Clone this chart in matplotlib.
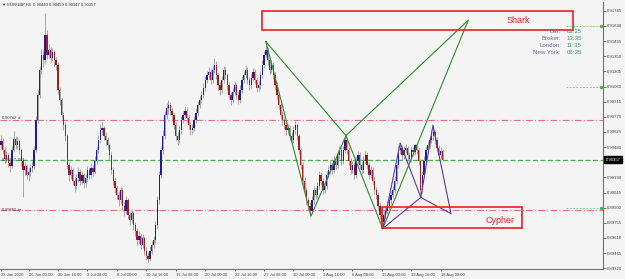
import numpy as np
import matplotlib.pyplot as plt
from matplotlib.patches import Rectangle

plt.rcParams['font.family'] = ['Liberation Sans', 'DejaVu Sans']

# EURGBP H4 candles (open of each bar = close of the previous bar)
first_open = 0.9050
closes = [
    0.9054, 0.9045, 0.9037, 0.9040, 0.9033, 0.9030, 0.9045, 0.9056, 0.9050, 0.9054,
    0.9045, 0.9035, 0.9026, 0.9030, 0.9021, 0.9024, 0.9028, 0.9030, 0.9045, 0.9074,
    0.9098, 0.9122, 0.9136, 0.9131, 0.9155, 0.9136, 0.9141, 0.9133, 0.9139, 0.9131,
    0.9127, 0.9103, 0.9093, 0.9079, 0.9069, 0.9059, 0.9031, 0.9021, 0.9026, 0.9016,
    0.9011, 0.9018, 0.9024, 0.9016, 0.9021, 0.9014, 0.9018, 0.9026, 0.9021, 0.9028,
    0.9024, 0.9035, 0.9045, 0.9055, 0.9064, 0.9066, 0.9059, 0.9055, 0.9050, 0.9040,
    0.9026, 0.9016, 0.9009, 0.9002, 0.8997, 0.9007, 0.8992, 0.8987, 0.8997, 0.8983,
    0.8978, 0.8985, 0.8973, 0.8968, 0.8959, 0.8963, 0.8954, 0.8961, 0.8949, 0.8944,
    0.8941, 0.8949, 0.8954, 0.8959, 0.8973, 0.8997, 0.9021, 0.9045, 0.9059, 0.9079,
    0.9085, 0.9088, 0.9083, 0.9079, 0.9069, 0.9059, 0.9055, 0.9064, 0.9074, 0.9079,
    0.9083, 0.9076, 0.9069, 0.9064, 0.9066, 0.9074, 0.9081, 0.9088, 0.9093, 0.9098,
    0.9105, 0.9112, 0.9117, 0.9120, 0.9112, 0.9122, 0.9127, 0.9117, 0.9107, 0.9103,
    0.9112, 0.9122, 0.9117, 0.9107, 0.9098, 0.9093, 0.9101, 0.9107, 0.9098, 0.9093,
    0.9103, 0.9112, 0.9117, 0.9122, 0.9112, 0.9107, 0.9114, 0.9120, 0.9112, 0.9105,
    0.9107, 0.9117, 0.9127, 0.9136, 0.9141, 0.9131, 0.9122, 0.9127, 0.9117, 0.9107,
    0.9098, 0.9088, 0.9079, 0.9074, 0.9069, 0.9064, 0.9066, 0.9059, 0.9055, 0.9064,
    0.9069, 0.9059, 0.9045, 0.9031, 0.9016, 0.9007, 0.8997, 0.8992, 0.8987, 0.8997,
    0.9007, 0.9002, 0.9011, 0.9021, 0.9016, 0.9007, 0.9011, 0.9021, 0.9026, 0.9031,
    0.9026, 0.9035, 0.9031, 0.9040, 0.9045, 0.9035, 0.9045, 0.9055, 0.9045, 0.9035,
    0.9026, 0.9031, 0.9021, 0.9035, 0.9040, 0.9031, 0.9026, 0.9035, 0.9040, 0.9031,
    0.9021, 0.9026, 0.9016, 0.9007, 0.9002, 0.8992, 0.8983, 0.8976, 0.8983, 0.8987,
    0.8992, 0.8997, 0.9002, 0.9007, 0.9016, 0.9031, 0.9045, 0.9047, 0.9040, 0.9045,
    0.9047, 0.9040, 0.9037, 0.9045, 0.9043, 0.9050, 0.9045, 0.9035, 0.9007, 0.9021,
    0.9035, 0.9045, 0.9050, 0.9055, 0.9059, 0.9062, 0.9055, 0.9047, 0.9040, 0.9044,
    0.90357,
]
highs = [
    0.9060, 0.9057, 0.9048, 0.9044, 0.9042, 0.9036, 0.9049, 0.9063, 0.9059, 0.9058,
    0.9056, 0.9047, 0.9037, 0.9034, 0.9032, 0.9028, 0.9032, 0.9035, 0.9049, 0.9078,
    0.9103, 0.9126, 0.9142, 0.9140, 0.9176, 0.9160, 0.9147, 0.9144, 0.9143, 0.9141,
    0.9134, 0.9129, 0.9106, 0.9096, 0.9082, 0.9072, 0.9061, 0.9034, 0.9030, 0.9028,
    0.9019, 0.9022, 0.9029, 0.9027, 0.9025, 0.9023, 0.9022, 0.9030, 0.9029, 0.9033,
    0.9031, 0.9039, 0.9049, 0.9060, 0.9070, 0.9072, 0.9068, 0.9062, 0.9058, 0.9052,
    0.9043, 0.9029, 0.9019, 0.9012, 0.9006, 0.9011, 0.9009, 0.8995, 0.9001, 0.8999,
    0.8986, 0.8989, 0.8987, 0.8976, 0.8971, 0.8968, 0.8966, 0.8965, 0.8963, 0.8952,
    0.8948, 0.8953, 0.8958, 0.8963, 0.8977, 0.9001, 0.9025, 0.9049, 0.9064, 0.9083,
    0.9090, 0.9093, 0.9091, 0.9086, 0.9081, 0.9072, 0.9062, 0.9068, 0.9078, 0.9083,
    0.9087, 0.9086, 0.9079, 0.9072, 0.9070, 0.9078, 0.9085, 0.9092, 0.9097, 0.9102,
    0.9109, 0.9116, 0.9121, 0.9125, 0.9123, 0.9126, 0.9133, 0.9130, 0.9119, 0.9110,
    0.9116, 0.9126, 0.9125, 0.9119, 0.9110, 0.9101, 0.9105, 0.9111, 0.9109, 0.9101,
    0.9107, 0.9116, 0.9121, 0.9127, 0.9125, 0.9115, 0.9118, 0.9124, 0.9123, 0.9115,
    0.9111, 0.9121, 0.9131, 0.9140, 0.9149, 0.9144, 0.9134, 0.9131, 0.9129, 0.9120,
    0.9110, 0.9101, 0.9091, 0.9083, 0.9077, 0.9072, 0.9070, 0.9069, 0.9062, 0.9068,
    0.9073, 0.9071, 0.9061, 0.9047, 0.9034, 0.9019, 0.9010, 0.9000, 0.8995, 0.9001,
    0.9011, 0.9010, 0.9015, 0.9025, 0.9024, 0.9018, 0.9015, 0.9025, 0.9030, 0.9035,
    0.9034, 0.9039, 0.9038, 0.9044, 0.9049, 0.9048, 0.9049, 0.9059, 0.9058, 0.9048,
    0.9038, 0.9035, 0.9034, 0.9039, 0.9044, 0.9043, 0.9034, 0.9039, 0.9044, 0.9043,
    0.9034, 0.9030, 0.9029, 0.9019, 0.9010, 0.9005, 0.8995, 0.8986, 0.8987, 0.8991,
    0.8996, 0.9001, 0.9006, 0.9011, 0.9020, 0.9035, 0.9049, 0.9052, 0.9050, 0.9049,
    0.9051, 0.9049, 0.9043, 0.9049, 0.9048, 0.9051, 0.9051, 0.9047, 0.9037, 0.9025,
    0.9039, 0.9049, 0.9054, 0.9059, 0.9064, 0.9069, 0.9064, 0.9058, 0.9050, 0.9048,
    0.90459,
]
lows = [
    0.9046, 0.9041, 0.9033, 0.9034, 0.9029, 0.9024, 0.9028, 0.9043, 0.9046, 0.9047,
    0.9041, 0.9030, 0.9000, 0.9021, 0.9017, 0.9016, 0.9020, 0.9024, 0.9027, 0.9043,
    0.9071, 0.9095, 0.9118, 0.9125, 0.9128, 0.9132, 0.9133, 0.9129, 0.9130, 0.9126,
    0.9122, 0.9099, 0.9088, 0.9075, 0.9064, 0.9054, 0.9027, 0.9016, 0.9017, 0.9012,
    0.9005, 0.9008, 0.9015, 0.9012, 0.9013, 0.9009, 0.9010, 0.9015, 0.9017, 0.9018,
    0.9020, 0.9022, 0.9032, 0.9042, 0.9052, 0.9060, 0.9055, 0.9050, 0.9046, 0.9036,
    0.9022, 0.9012, 0.9004, 0.8998, 0.8992, 0.8994, 0.8988, 0.8982, 0.8984, 0.8979,
    0.8973, 0.8975, 0.8969, 0.8963, 0.8954, 0.8955, 0.8950, 0.8951, 0.8945, 0.8940,
    0.8937, 0.8939, 0.8946, 0.8951, 0.8956, 0.8970, 0.8994, 0.9018, 0.9041, 0.9056,
    0.9075, 0.9080, 0.9079, 0.9074, 0.9065, 0.9055, 0.9050, 0.9052, 0.9061, 0.9071,
    0.9076, 0.9072, 0.9065, 0.9060, 0.9061, 0.9063, 0.9071, 0.9078, 0.9085, 0.9090,
    0.9095, 0.9102, 0.9109, 0.9113, 0.9108, 0.9109, 0.9119, 0.9113, 0.9103, 0.9098,
    0.9100, 0.9109, 0.9113, 0.9103, 0.9094, 0.9088, 0.9090, 0.9098, 0.9094, 0.9089,
    0.9090, 0.9100, 0.9109, 0.9114, 0.9108, 0.9103, 0.9104, 0.9111, 0.9108, 0.9101,
    0.9102, 0.9104, 0.9114, 0.9124, 0.9133, 0.9127, 0.9118, 0.9119, 0.9113, 0.9103,
    0.9094, 0.9084, 0.9075, 0.9069, 0.9065, 0.9060, 0.9061, 0.9055, 0.9050, 0.9052,
    0.9061, 0.9055, 0.9041, 0.9027, 0.9012, 0.9003, 0.8993, 0.8988, 0.8982, 0.8984,
    0.8994, 0.8998, 0.8999, 0.9008, 0.9012, 0.9003, 0.9004, 0.9008, 0.9018, 0.9022,
    0.9022, 0.9023, 0.9027, 0.9028, 0.9037, 0.9031, 0.9032, 0.9042, 0.9041, 0.9031,
    0.9022, 0.9023, 0.9017, 0.9018, 0.9032, 0.9027, 0.9022, 0.9023, 0.9032, 0.9027,
    0.9017, 0.9018, 0.9012, 0.9003, 0.8998, 0.8988, 0.8979, 0.8970, 0.8973, 0.8979,
    0.8984, 0.8988, 0.8994, 0.8999, 0.9004, 0.9013, 0.9028, 0.9041, 0.9036, 0.9037,
    0.9042, 0.9036, 0.9033, 0.9034, 0.9039, 0.9040, 0.9041, 0.9031, 0.9000, 0.9004,
    0.9018, 0.9032, 0.9042, 0.9047, 0.9052, 0.9055, 0.9051, 0.9043, 0.9036, 0.9037,
    0.90347,
]

# axis ticks
price_ticks = [0.91785, 0.91640, 0.91495, 0.91350, 0.91205, 0.91060, 0.90915, 0.90770,
               0.90625, 0.90480, 0.90190, 0.90045, 0.89900, 0.89755, 0.89610, 0.89465, 0.89320]
date_ticks = [0, 15, 31, 47, 63, 79, 95, 111, 127, 143, 159, 175, 191, 207, 223, 239]
date_labels = ["23 Jun 2020", "26 Jun 00:00", "30 Jun 16:00", "3 Jul 08:00", "8 Jul 00:00",
               "10 Jul 16:00", "15 Jul 08:00", "20 Jul 00:00", "22 Jul 16:00", "27 Jul 08:00",
               "30 Jul 00:00", "3 Aug 16:00", "6 Aug 08:00", "11 Aug 00:00", "13 Aug 16:00",
               "18 Aug 08:00"]

# harmonic patterns (bar index, price)
shark_x = [144, 168.5, 187.5, 207.5, 254]
shark_p = [0.91490, 0.89820, 0.90590, 0.89700, 0.91695]
cypher_x = [207.5, 217, 228.2, 234.8, 244.6]
cypher_p = [0.89700, 0.90518, 0.89998, 0.90690, 0.89843]

# levels
last_price = 0.90357
level_d = 0.90742
level_tp = 0.89880
green_levels = [0.91640, 0.91060, 0.89900]

bg = '#f4f4f4'
ymin, ymax = 0.89313, 0.91869
fig = plt.figure(figsize=(6.25, 2.79), dpi=100, facecolor=bg)
ax = fig.add_axes([0, 10 / 279, 603 / 625, 267 / 279], facecolor=bg)

closes = np.array(closes)
highs = np.array(highs)
lows = np.array(lows)
opens = np.r_[first_open, closes[:-1]]
idx = np.arange(len(closes))
up = closes >= opens

ax.vlines(idx, lows, highs, color='#9a9a9a', lw=0.6, zorder=2)
ax.bar(idx[up], closes[up] - opens[up], bottom=opens[up], width=0.7,
       color='#1c1ca8', lw=0, zorder=3)
ax.bar(idx[~up], opens[~up] - closes[~up], bottom=closes[~up], width=0.7,
       color='#a81c1c', lw=0, zorder=3)

# horizontal levels
ax.axhline(level_d, color='#e0708a', lw=0.8, ls=(0, (6, 2, 1, 2)), zorder=1)
ax.axhline(level_tp, color='#e0708a', lw=0.8, ls=(0, (6, 2, 1, 2)), zorder=1)
ax.axhline(last_price, color='#4caf50', lw=0.9, ls=(0, (4, 2)), zorder=1)
for lv in green_levels:
    ax.plot([307, 326], [lv, lv], color='#66cc66', lw=0.6, ls=(0, (2, 2)), zorder=1)
    ax.plot([326], [lv], marker='o', ms=1.5, color='#44bb44', zorder=4)

ax.text(0.5, level_d, '0.90742  d', fontsize=2.8, color='#303030', va='bottom', ha='left')
ax.text(0.5, last_price, '0.90357  001', fontsize=2.8, color='#303030', va='center', ha='left')
ax.text(0.5, level_tp, '0.89880  tp', fontsize=2.8, color='#303030', va='center', ha='left')

# patterns
ax.plot([shark_x[0], shark_x[1], shark_x[2], shark_x[0]],
        [shark_p[0], shark_p[1], shark_p[2], shark_p[0]], color='#2e8b2e', lw=0.8, zorder=5)
ax.plot([shark_x[2], shark_x[3], shark_x[4], shark_x[2]],
        [shark_p[2], shark_p[3], shark_p[4], shark_p[2]], color='#2e8b2e', lw=0.8, zorder=5)
ax.plot([cypher_x[0], cypher_x[1], cypher_x[2], cypher_x[0]],
        [cypher_p[0], cypher_p[1], cypher_p[2], cypher_p[0]], color='#5b3a9e', lw=0.8, zorder=5)
ax.plot([cypher_x[2], cypher_x[3], cypher_x[4], cypher_x[2]],
        [cypher_p[2], cypher_p[3], cypher_p[4], cypher_p[2]], color='#5b3a9e', lw=0.8, zorder=5)

# labelled boxes
ax.add_patch(Rectangle((141.9, 0.91600), 169.0, 0.00182, fill=False, ec='#ee1c24', lw=1.2, zorder=6))
ax.text(281.3, 0.91695, 'Shark', fontsize=6.5, color='#ee1c24', ha='center', va='center', zorder=6)
ax.add_patch(Rectangle((207.0, 0.89702), 76.0, 0.00201, fill=False, ec='#ee1c24', lw=1.2, zorder=6))
ax.text(271, 0.89776, 'Cypher', fontsize=6.5, color='#ee1c24', ha='center', va='center', zorder=6)

# axes
ax.set_xlim(-0.5, -0.5 + 603 / 1.84)
ax.set_ylim(ymin, ymax)
for s in ['left', 'top']:
    ax.spines[s].set_visible(False)
for s in ['right', 'bottom']:
    ax.spines[s].set_color('#707070')
    ax.spines[s].set_linewidth(0.8)
ax.yaxis.tick_right()
ax.set_yticks(price_ticks)
ax.set_yticklabels([f'{v:.5f}' for v in price_ticks])
ax.set_xticks(date_ticks)
ax.set_xticklabels(date_labels, ha='left')
ax.tick_params(axis='y', labelsize=3.1, colors='#404040', length=2, width=0.5, pad=1)
ax.tick_params(axis='x', labelsize=3.0, colors='#404040', length=1.5, width=0.5, pad=1.5)

# current price tag
ax.text(1.004, (last_price - ymin) / (ymax - ymin), f'{last_price:.5f}',
        transform=ax.transAxes, fontsize=3.1, color='white', va='center', ha='left',
        bbox=dict(boxstyle='square,pad=0.35', fc='black', ec='black'), clip_on=False)

# header and clock
fig.text(2 / 625, 1 - 5 / 279, '\u25bc EURGBP,H4  0.90440 0.90459 0.90347 0.90357',
         fontsize=3.0, color='#303030', va='center')
clock_labels = ['Bar:', 'Broker:', 'London:', 'New York:']
clock_values = ['02:25', '13:35', '11:35', '06:35']
for i, (lab, val) in enumerate(zip(clock_labels, clock_values)):
    yy = 1 - (31.7 + i * 6.8) / 279
    fig.text(561 / 625, yy, lab, fontsize=4.4, color='#6a6a9a', ha='right', va='center')
    fig.text(567 / 625, yy, val, fontsize=4.4, color='#3a9a6a', ha='left', va='center')

fig.savefig('out.png', dpi=100, facecolor=bg)
